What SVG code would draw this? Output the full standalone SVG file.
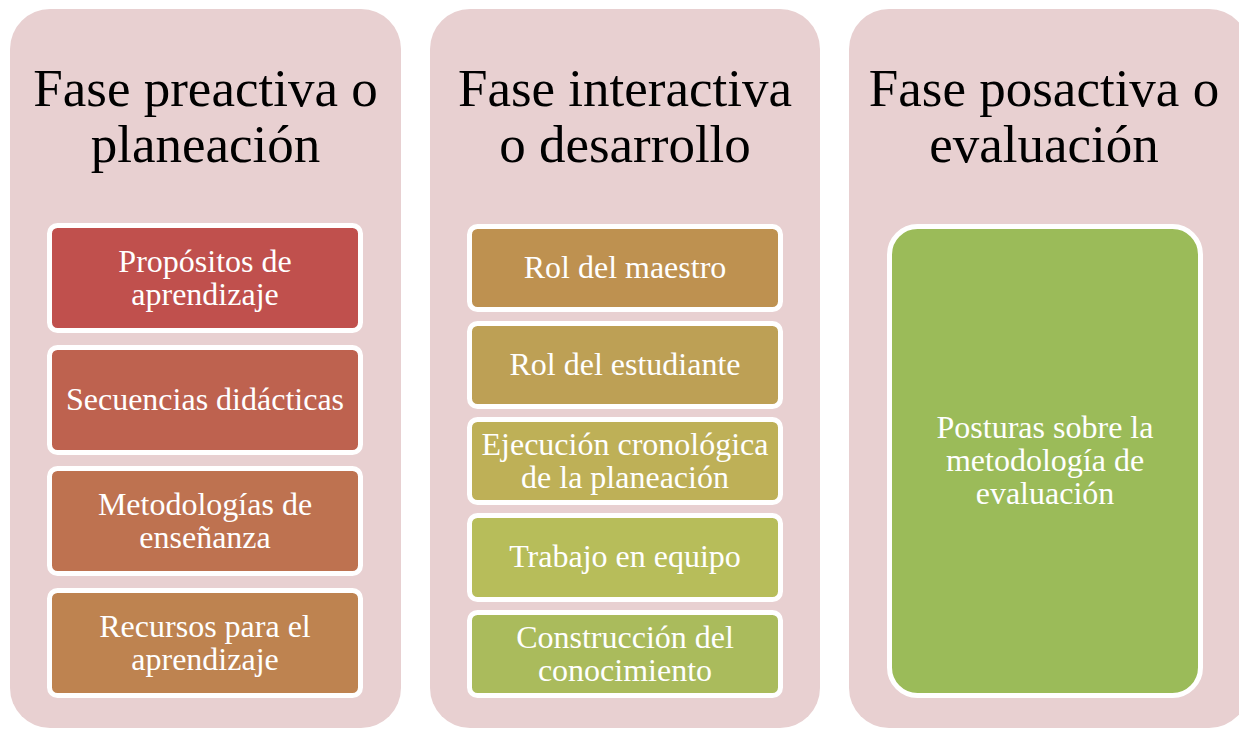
<svg xmlns="http://www.w3.org/2000/svg" width="1239" height="729" viewBox="0 0 1239 729">
<style>
.panel{fill:#E8D0D1}
.box{stroke:#FFFFFF;stroke-width:5}
.title{font-family:"Liberation Serif","Times New Roman",serif;font-size:53px;fill:#000000;text-anchor:middle}
.lbl{font-family:"Liberation Serif","Times New Roman",serif;font-size:32px;fill:#FFFFFF;text-anchor:middle}
</style>
<rect width="1239" height="729" fill="#FFFFFF"/>
<g id="panel1">
<rect class="panel" x="10" y="9" width="391" height="719" rx="40"/>
<text class="title" x="205.5" y="106">Fase preactiva o</text>
<text class="title" x="205.5" y="162">planeación</text>
</g>
<g id="panel2">
<rect class="panel" x="430" y="9" width="390" height="719" rx="40"/>
<text class="title" x="625" y="106">Fase interactiva</text>
<text class="title" x="625" y="162">o desarrollo</text>
</g>
<g id="panel3">
<rect class="panel" x="849" y="9" width="400" height="719" rx="40"/>
<text class="title" x="1044" y="106">Fase posactiva o</text>
<text class="title" x="1044" y="162">evaluación</text>
</g>
<g id="n1">
<rect class="box" x="49.5" y="225.5" width="311" height="105" rx="8" fill="#C0504D"/>
<text class="lbl" x="205" y="272">Propósitos de</text>
<text class="lbl" x="205" y="305">aprendizaje</text>
</g>
<g id="n2">
<rect class="box" x="49.5" y="347.5" width="311" height="105" rx="8" fill="#BE624F"/>
<text class="lbl" x="205" y="410">Secuencias didácticas</text>
</g>
<g id="n3">
<rect class="box" x="49.5" y="468.5" width="311" height="105" rx="8" fill="#BE7250"/>
<text class="lbl" x="205" y="515">Metodologías de</text>
<text class="lbl" x="205" y="548">enseñanza</text>
</g>
<g id="n4">
<rect class="box" x="49.5" y="590.5" width="311" height="105" rx="8" fill="#BE8350"/>
<text class="lbl" x="205" y="637">Recursos para el</text>
<text class="lbl" x="205" y="670">aprendizaje</text>
</g>
<g id="n5">
<rect class="box" x="469.5" y="226.5" width="311" height="83" rx="8" fill="#BE9150"/>
<text class="lbl" x="625" y="278">Rol del maestro</text>
</g>
<g id="n6">
<rect class="box" x="469.5" y="323.5" width="311" height="83" rx="8" fill="#BDA055"/>
<text class="lbl" x="625" y="375">Rol del estudiante</text>
</g>
<g id="n7">
<rect class="box" x="469.5" y="419.5" width="311" height="83" rx="8" fill="#BEB057"/>
<text class="lbl" x="625" y="455">Ejecución cronológica</text>
<text class="lbl" x="625" y="488">de la planeación</text>
</g>
<g id="n8">
<rect class="box" x="469.5" y="515.5" width="311" height="84" rx="8" fill="#B7BD5A"/>
<text class="lbl" x="625" y="567">Trabajo en equipo</text>
</g>
<g id="n9">
<rect class="box" x="469.5" y="612.5" width="311" height="83" rx="8" fill="#AABB5C"/>
<text class="lbl" x="625" y="648">Construcción del</text>
<text class="lbl" x="625" y="681">conocimiento</text>
</g>
<g id="n10">
<rect class="box" x="889.5" y="226.5" width="311" height="469" rx="28" fill="#9BBB59"/>
<text class="lbl" x="1045" y="438">Posturas sobre la</text>
<text class="lbl" x="1045" y="471">metodología de</text>
<text class="lbl" x="1045" y="504">evaluación</text>
</g>
<g id="connectors"></g>
</svg>
